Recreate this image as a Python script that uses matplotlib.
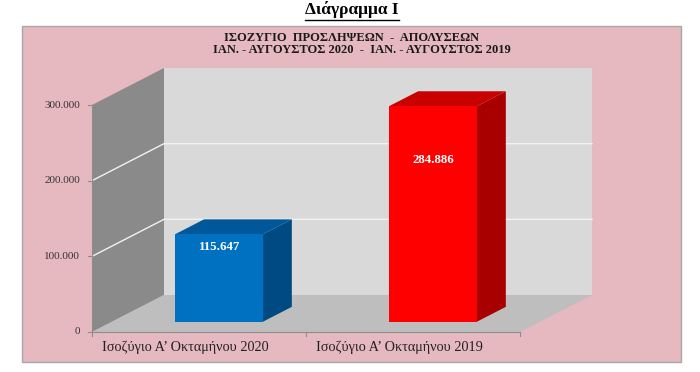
import numpy as np
import matplotlib.pyplot as plt
from matplotlib.patches import Polygon, Rectangle
from matplotlib.lines import Line2D

categories = ['Ισοζύγιο Α’ Οκταμήνου 2020', 'Ισοζύγιο Α’ Οκταμήνου 2019']
values = [115647, 284886]
value_labels = ['115.647', '284.886']
yticks = [0, 100000, 200000, 300000]
ytick_labels = ['0', '100.000', '200.000', '300.000']
page_title = 'Διάγραμμα Ι'
chart_title = ['ΙΣΟΖΥΓΙΟ  ΠΡΟΣΛΗΨΕΩΝ  -  ΑΠΟΛΥΣΕΩΝ',
               'ΙΑΝ. - ΑΥΓΟΥΣΤΟΣ 2020  -  ΙΑΝ. - ΑΥΓΟΥΣΤΟΣ 2019']

# colours: front, top, side of each bar
bar_colors = [('#0070c0', '#00589a', '#004a84'),
              ('#ff0000', '#c80000', '#a80000')]
label_frac = [0.85, 0.75]

SERIF = ['Liberation Serif', 'DejaVu Serif']
W, H = 700, 372
fig = plt.figure(figsize=(7, 3.72), dpi=100)
ax = fig.add_axes([92 / W, 1 - 332 / H, 428 / W, 227 / H])
ax.set_xlim(-0.5, 1.5)
ax.set_ylim(0, 300000)
ax.axis('off')

DEPTH = (72, 37)  # pixel shift of the back wall


def proj(x, y, d):
    px, py = ax.transData.transform((x, y))
    return fig.transFigure.inverted().transform((px + d * DEPTH[0], py + d * DEPTH[1]))


def face(pts, color, z, ec='none', lw=0):
    xy = [proj(*p) for p in pts]
    fig.add_artist(Polygon(xy, closed=True, transform=fig.transFigure,
                           fc=color, ec=ec, lw=lw, zorder=z))


def line(pts, color, z, lw=1):
    xy = np.array([proj(*p) for p in pts])
    fig.add_artist(Line2D(xy[:, 0], xy[:, 1], transform=fig.transFigure,
                          color=color, lw=lw, zorder=z))


# pink chart area
fig.add_artist(Rectangle((22 / W, 1 - 362 / H), 659 / W, 336 / H, transform=fig.transFigure,
                         fc='#e6b9c0', ec='#a8a8a8', lw=1, zorder=0))

top = yticks[-1]
# walls and floor
face([(-0.5, 0, 1), (1.5, 0, 1), (1.5, top, 1), (-0.5, top, 1)], '#d9d9d9', 1)
face([(-0.5, 0, 0), (-0.5, 0, 1), (-0.5, top, 1), (-0.5, top, 0)], '#8a8a8a', 1)
face([(-0.5, 0, 0), (1.5, 0, 0), (1.5, 0, 1), (-0.5, 0, 1)], '#bebebe', 1)

# gridlines
for y in yticks[1:-1]:
    line([(-0.5, y, 0), (-0.5, y, 1), (1.5, y, 1)], '#f2f2f2', 2, lw=1)

# axis lines and ticks
line([(-0.5, 0, 0), (-0.5, top, 0)], '#8c8c8c', 2, lw=0.8)
line([(-0.5, 0, 0), (1.5, 0, 0)], '#8c8c8c', 2, lw=0.8)
for y, lab in zip(yticks, ytick_labels):
    p = proj(-0.5, y, 0)
    fig.add_artist(Line2D([p[0] - 4 / W, p[0]], [p[1], p[1]], transform=fig.transFigure,
                          color='#8c8c8c', lw=0.8, zorder=2))
    fig.text(p[0] - 12 / W, p[1], lab, ha='right', va='center', fontsize=8,
             family=SERIF, color='#333333', zorder=5)
for x in [-0.5, 0.5, 1.5]:
    p = proj(x, 0, 0)
    fig.add_artist(Line2D([p[0], p[0]], [p[1], p[1] - 4 / H], transform=fig.transFigure,
                          color='#8c8c8c', lw=0.8, zorder=2))
for i, cat in enumerate(categories):
    p = proj(i, 0, 0)
    fig.text(p[0] - 14 / W, p[1] - 15 / H, cat, ha='center', va='center', fontsize=10.3,
             family=SERIF, color='#222222', zorder=5)

# 3d bars
bw, d0, d1 = 0.41, 0.28, 0.68
for i, (v, (cf, ct, cs)) in enumerate(zip(values, bar_colors)):
    x0, x1 = i - bw / 2, i + bw / 2
    face([(x1, 0, d0), (x1, 0, d1), (x1, v, d1), (x1, v, d0)], cs, 3)
    face([(x0, v, d0), (x1, v, d0), (x1, v, d1), (x0, v, d1)], ct, 3)
    face([(x0, 0, d0), (x1, 0, d0), (x1, v, d0), (x0, v, d0)], cf, 3)
    p = proj(i, v * label_frac[i], d0)
    fig.text(p[0], p[1], value_labels[i], ha='center', va='center', fontsize=9.3,
             fontweight='bold', family=SERIF, color='white', zorder=5)

# titles
fig.text(352 / W, 1 - 38 / H, chart_title[0], ha='center', va='center', fontsize=9,
         fontweight='bold', family=SERIF, color='#1a1a1a', zorder=5)
fig.text(362 / W, 1 - 50 / H, chart_title[1], ha='center', va='center', fontsize=9,
         fontweight='bold', family=SERIF, color='#1a1a1a', zorder=5)

t = fig.text(352 / W, 1 - 10 / H, page_title, ha='center', va='center', fontsize=12.5,
             fontweight='bold', family=SERIF, color='black', zorder=5)
fig.canvas.draw()
bb = t.get_window_extent().transformed(fig.transFigure.inverted())
fig.add_artist(Line2D([bb.x0, bb.x1], [1 - 20 / H, 1 - 20 / H], transform=fig.transFigure,
                      color='black', lw=1, zorder=5))

fig.savefig('out.png', dpi=100, facecolor='white')
